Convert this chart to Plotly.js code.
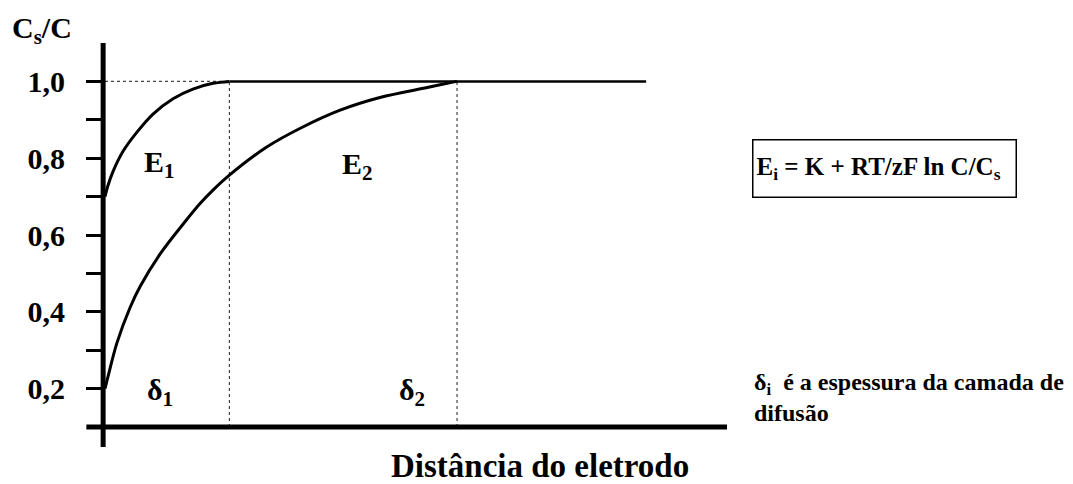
<!DOCTYPE html>
<html>
<head>
<meta charset="utf-8">
<script src="https://cdn.plot.ly/plotly-3.0.1.min.js"></script>
<style>
  html, body { margin: 0; padding: 0; background: #fff; }
  #chart { width: 1073px; height: 484px; }
</style>
</head>
<body>
<div id="chart"></div>
<script>
// Concentration ratio Cs/C versus distance from the electrode, for two
// diffusion layers of thickness delta1 and delta2 (distance in arbitrary units).
const delta1 = 1.0;
const delta2 = 2.83;
const plateauEnd = 4.35;

// Thin layer (E1)
const distE1 = [0, 0.02, 0.064, 0.145, 0.257, 0.386, 0.547, 0.707, 0.868, 1.0];
const ratioE1 = [0.70, 0.725, 0.765, 0.818, 0.868, 0.915, 0.955, 0.98, 0.995, 1.0];

// Thick layer (E2)
const distE2 = [0, 0.024, 0.096, 0.2, 0.281, 0.442, 0.627, 0.764, 0.868, 1.0, 1.30, 1.57, 1.89, 2.21, 2.59, 2.75, 2.83];
const ratioE2 = [0.2, 0.231, 0.319, 0.41, 0.465, 0.55, 0.628, 0.682, 0.717, 0.756, 0.829, 0.878, 0.925, 0.958, 0.984, 0.995, 1.0];

const majorTicks = [0.2, 0.4, 0.6, 0.8, 1.0];
const minorTicks = [0.3, 0.5, 0.7, 0.9];

const serif = '"Liberation Serif", "Times New Roman", Times, serif';
const black = '#000';

const curve = (x, y) => ({
  x: x, y: y, type: 'scatter', mode: 'lines', hoverinfo: 'skip',
  line: { color: black, width: 3, shape: 'spline', smoothing: 1 }
});
const guide = (x, y) => ({
  x: x, y: y, type: 'scatter', mode: 'lines', hoverinfo: 'skip',
  line: { color: '#444', width: 1.2, dash: 'dot' }
});

const traces = [
  guide([0, delta1], [1.0, 1.0]),
  guide([delta1, delta1], [0.1, 1.0]),
  guide([delta2, delta2], [0.1, 1.0]),
  { x: [delta1, plateauEnd], y: [1.0, 1.0], type: 'scatter', mode: 'lines',
    hoverinfo: 'skip', line: { color: black, width: 2.5 } },
  curve(distE1, ratioE1),
  curve(distE2, ratioE2)
];

const txt = (size) => ({ family: serif, size: size, color: black, weight: 'bold' });

const layout = {
  width: 1073, height: 484,
  margin: { l: 105, r: 346, t: 43, b: 57 },
  paper_bgcolor: '#fff', plot_bgcolor: '#fff',
  showlegend: false,
  separators: ',.',
  font: txt(28),
  xaxis: {
    range: [0, 5], showline: false, showgrid: false, zeroline: false,
    showticklabels: false, ticks: '', fixedrange: true
  },
  yaxis: {
    range: [0.1, 1.1], showline: false, showgrid: false, zeroline: false,
    tickmode: 'array', tickvals: majorTicks, tickformat: '.1f',
    ticks: 'outside', ticklen: 18, tickwidth: 3, tickcolor: black,
    ticklabelstandoff: 15,
    tickfont: txt(30),
    minor: { tickmode: 'array', tickvals: minorTicks, ticks: 'outside',
             ticklen: 18, tickwidth: 3, tickcolor: black, showgrid: false },
    fixedrange: true
  },
  shapes: [
    // vertical axis, running a little past the horizontal one
    { type: 'line', xref: 'paper', yref: 'paper', x0: -0.003, x1: -0.003, y0: -0.052, y1: 1,
      line: { color: black, width: 5 } },
    // horizontal axis, running a little past the vertical one
    { type: 'line', xref: 'paper', yref: 'paper', x0: -0.03, x1: 1, y0: 0, y1: 0,
      line: { color: black, width: 5 } }
  ],
  annotations: [
    { xref: 'paper', yref: 'paper', x: -0.153, xanchor: 'left', y: 1.034, yanchor: 'middle',
      showarrow: false, text: 'C<sub>s</sub>/C', font: txt(30) },
    { xref: 'x', yref: 'y', x: 0.44, y: 0.786, showarrow: false,
      text: 'E<sub>1</sub>', font: txt(30) },
    { xref: 'x', yref: 'y', x: 2.03, y: 0.78, showarrow: false,
      text: 'E<sub>2</sub>', font: txt(30) },
    { xref: 'x', yref: 'y', x: 0.44, y: 0.19, showarrow: false,
      text: 'δ<sub>1</sub>', font: txt(30) },
    { xref: 'x', yref: 'y', x: 2.47, y: 0.19, showarrow: false,
      text: 'δ<sub>2</sub>', font: txt(30) },
    { xref: 'paper', yref: 'paper', x: 0.699, xanchor: 'center', y: -0.102, yanchor: 'middle',
      showarrow: false, text: 'Distância do eletrodo', font: txt(33) },
    { xref: 'paper', yref: 'paper', x: 1.04, xanchor: 'left', y: 0.674, yanchor: 'middle',
      showarrow: false,
      text: 'E<sub>i</sub> = K + RT/zF ln C/C<sub>s</sub>', font: txt(25),
      align: 'left', width: 256, height: 50, bordercolor: black, borderwidth: 1.5, borderpad: 3 },
    { xref: 'paper', yref: 'paper', x: 1.04, xanchor: 'left', y: 0.078, yanchor: 'middle',
      showarrow: false, align: 'left',
      text: 'δ<sub>i</sub>  é a espessura da camada de<br>difusão', font: txt(24) }
  ]
};

Plotly.newPlot('chart', traces, layout, { displayModeBar: false, staticPlot: true });
</script>
</body>
</html>
